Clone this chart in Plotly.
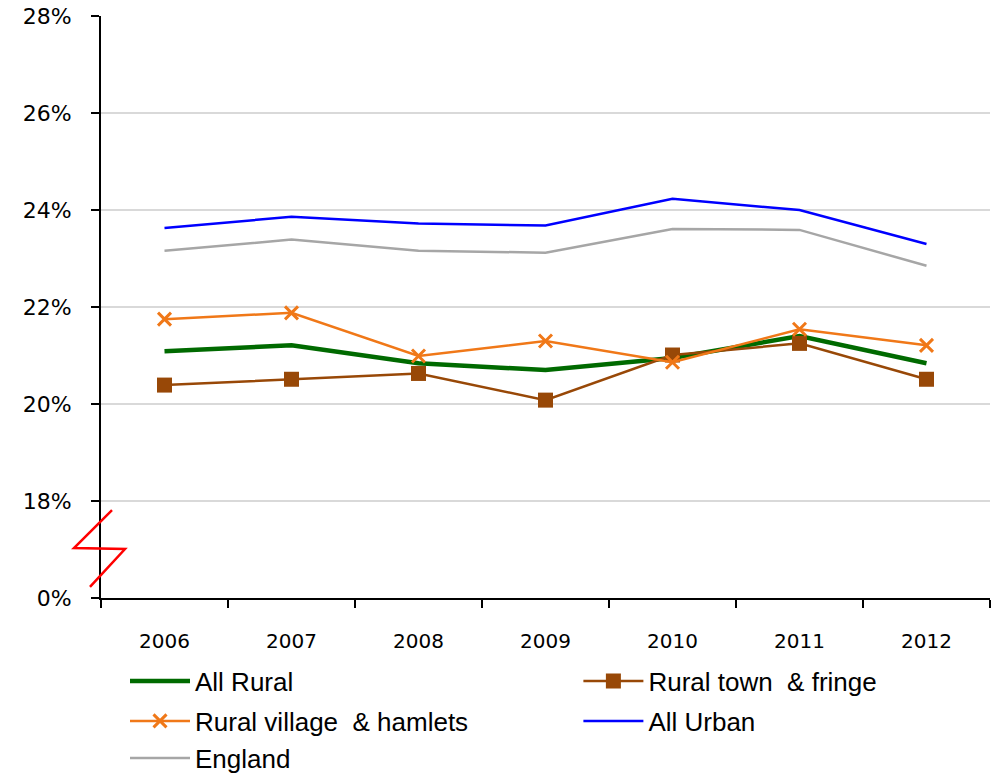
import plotly.graph_objects as go

years = ["2006", "2007", "2008", "2009", "2010", "2011", "2012"]
all_rural = [21.09, 21.21, 20.84, 20.70, 20.95, 21.40, 20.84]
rural_town = [20.39, 20.51, 20.63, 20.08, 21.01, 21.25, 20.51]
rural_village = [21.75, 21.88, 20.99, 21.30, 20.86, 21.54, 21.21]
all_urban = [23.63, 23.86, 23.72, 23.68, 24.23, 24.00, 23.30]
england = [23.16, 23.39, 23.16, 23.12, 23.61, 23.59, 22.85]

ytick_vals = [16, 18, 20, 22, 24, 26, 28]
ytick_text = ["0%", "18%", "20%", "22%", "24%", "26%", "28%"]

fig = go.Figure()
fig.add_trace(go.Scatter(x=years, y=all_rural, name="All Rural", mode="lines",
                         line=dict(color="#006A00", width=4.5), legend="legend"))
fig.add_trace(go.Scatter(x=years, y=rural_town, name="Rural town &nbsp;&amp; fringe", mode="lines+markers",
                         line=dict(color="#984807", width=2.5),
                         marker=dict(symbol="square", size=15, color="#984807"), legend="legend2"))
fig.add_trace(go.Scatter(x=years, y=rural_village, name="Rural village &nbsp;&amp; hamlets", mode="lines+markers",
                         line=dict(color="#F07818", width=2.5),
                         marker=dict(symbol="x-thin", size=13, color="#F07818",
                                     line=dict(color="#F07818", width=3)), legend="legend3"))
fig.add_trace(go.Scatter(x=years, y=all_urban, name="All Urban", mode="lines",
                         line=dict(color="#0000FF", width=2.5), legend="legend4"))
fig.add_trace(go.Scatter(x=years, y=england, name="England", mode="lines",
                         line=dict(color="#A6A6A6", width=2.5), legend="legend5"))

# axis break decoration
fig.add_shape(type="path", xref="paper", yref="y",
              path="M 0.0124,17.81 L -0.0304,17.03 L 0.027,17.01 L -0.0124,16.23",
              line=dict(color="#FF0000", width=2.5))

legend_common = dict(orientation="h", xanchor="left", yanchor="middle",
                     font=dict(family="Liberation Sans, Arial, sans-serif", size=26, color="#000000"),
                     itemwidth=60, bgcolor="rgba(0,0,0,0)")

col1, col2 = 0.027, 0.537
row1, row2, row3 = -0.1426, -0.2113, -0.2750

fig.update_layout(
    width=995, height=774,
    margin=dict(l=101, r=5, t=16, b=176, autoexpand=False),
    paper_bgcolor="white", plot_bgcolor="white",
    font=dict(family="DejaVu Sans, Verdana, sans-serif", size=20, color="#000000"),
    xaxis=dict(type="category", range=[-0.5, 6.5], tickson="boundaries",
               ticks="outside", ticklen=8, tickcolor="#000000", tickwidth=1.5,
               showline=True, linecolor="#000000", linewidth=1.5,
               showgrid=False, zeroline=False, ticklabelstandoff=24,
               tickfont=dict(size=20), automargin=False),
    yaxis=dict(range=[16, 28], tickvals=ytick_vals, ticktext=ytick_text,
               ticks="outside", ticklen=8, tickcolor="#000000", tickwidth=1.5,
               showline=True, linecolor="#000000", linewidth=2,
               showgrid=True, gridcolor="#D9D9D9", gridwidth=1.5, zeroline=False,
               ticklabelstandoff=15, tickfont=dict(size=22), automargin=False),
    legend=dict(x=col1, y=row1, **legend_common),
    legend2=dict(x=col2, y=row1, **legend_common),
    legend3=dict(x=col1, y=row2, **legend_common),
    legend4=dict(x=col2, y=row2, **legend_common),
    legend5=dict(x=col1, y=row3, **legend_common),
    showlegend=True,
)

fig.write_html("out.html", config={"displayModeBar": False},
               post_script="document.body.style.margin='0';document.body.style.overflow='hidden';")
